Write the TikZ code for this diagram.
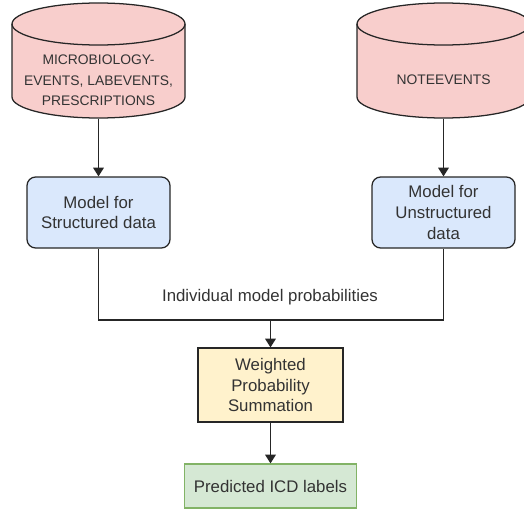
\documentclass[tikz,border=0pt]{standalone}
\usepackage{fontspec}
\setmainfont{Liberation Sans}
\usetikzlibrary{arrows.meta}
\definecolor{dbfill}{HTML}{F8CECC}
\definecolor{modelfill}{HTML}{DAE8FC}
\definecolor{sumfill}{HTML}{FFF2CC}
\definecolor{outfill}{HTML}{D5E8D4}
\definecolor{outline}{HTML}{82B366}
\definecolor{ink}{HTML}{333333}
\begin{document}
\begin{tikzpicture}[x=0.75pt,y=0.75pt,
  line width=0.95pt,
  txt/.style={text=ink,align=center,font=\fontsize{12.6pt}{15.4pt}\selectfont},
  dbtxt/.style={text=ink,align=center,font=\fontsize{10.4pt}{15.4pt}\selectfont},
  dbbox/.style={inner sep=0pt,minimum width=129.75pt,minimum height=86.25pt},
  modelbox/.style={draw=black!85,fill=modelfill,rounded corners=6.5pt,minimum width=107.25pt,minimum height=53.25pt,inner sep=0pt},
  sumbox/.style={draw=black!85,fill=sumfill,minimum width=108.75pt,minimum height=55.5pt,inner sep=0pt},
  outbox/.style={draw=outline,fill=outfill,minimum width=129pt,minimum height=33pt,inner sep=0pt},
  arr/.style={-{Triangle[length=6.5pt,width=8pt]}},
  link/.style={draw=black!85}
]
\useasboundingbox (0,0) rectangle (524,-510);
\clip (0,0) rectangle (524,-510);

% database cylinders
\foreach \cx in {98.5,443.5}{
  \fill[dbfill] (\cx-86.5,-24) -- (\cx-86.5,-97) arc (180:360:86.5 and 21)
     -- (\cx+86.5,-24) arc (0:180:86.5 and 21) -- cycle;
  \draw[black!85] (\cx-86.5,-24) -- (\cx-86.5,-97) arc (180:360:86.5 and 21)
     -- (\cx+86.5,-24);
  \draw[black!85] (\cx,-24) ellipse (86.5 and 21);
}
\node[dbbox] (db1) at (98.5,-60.5) {};
\node[dbbox] (db2) at (443.5,-60.5) {};
\node[dbtxt] (db1text) at (98.5,-80.5) {MICROBIOLOGY-\\EVENTS, LABEVENTS,\\PRESCRIPTIONS};
\node[dbtxt] (db2text) at (443.5,-80) {NOTEEVENTS};

% models
\node[modelbox,txt] (m1) at (98.5,-212.5) {Model for\\Structured data};
\node[modelbox,txt] (m2) at (443.5,-212.5) {Model for\\Unstructured\\data};

% fusion and output
\node[sumbox,txt] (sum) at (270.5,-385) {Weighted\\Probability\\Summation};
\node[outbox,txt] (out) at (270.5,-486) {Predicted ICD labels};

\coordinate (join) at (270.5,-320);
\node[txt] (problabel) at (270,-297) {Individual model probabilities};

% connectors
\draw[link,arr] (db1.south) -- (m1.north);
\draw[link,arr] (db2.south) -- (m2.north);
\draw[link] (m1.south) |- (join) -| (m2.south);
\draw[link,arr] (join) -- (sum.north);
\draw[link,arr] (sum.south) -- (out.north);
\end{tikzpicture}
\end{document}
